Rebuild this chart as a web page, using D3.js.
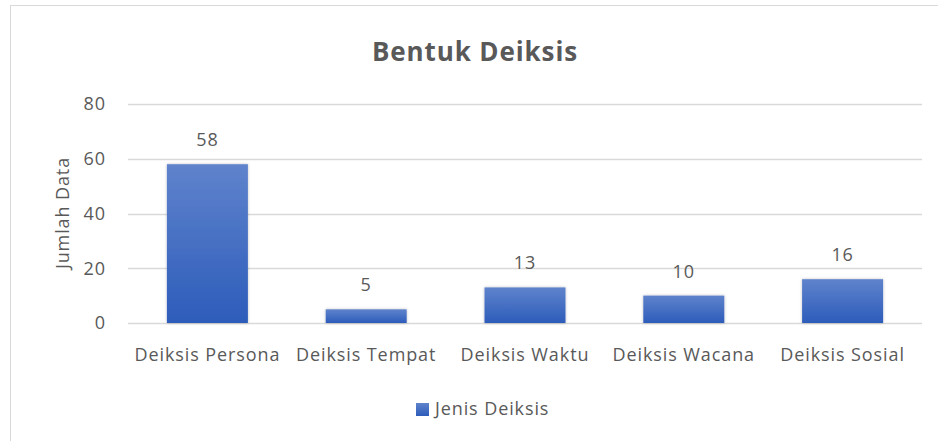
<!DOCTYPE html>
<html>
<head>
<meta charset="utf-8">
<script src="https://cdn.jsdelivr.net/npm/d3@7"></script>
<style>
  body { margin: 0; background: #fff; }
  text { font-family: "Open Sans", "Liberation Sans", sans-serif; fill: #595959; letter-spacing: 0.9px; }
</style>
</head>
<body>
<svg id="chart" width="938" height="441"></svg>
<script>
var categories = ["Deiksis Persona", "Deiksis Tempat", "Deiksis Waktu", "Deiksis Wacana", "Deiksis Sosial"];
var values = [58, 5, 13, 10, 16];
var yTicks = [0, 20, 40, 60, 80];
var seriesName = "Jenis Deiksis";

var svg = d3.select("#chart");

// outer chart border
svg.append("rect")
    .attr("x", 10.5).attr("y", 5.5)
    .attr("width", 940).attr("height", 450)
    .attr("fill", "#fff")
    .attr("stroke", "#d9d9d9");

var defs = svg.append("defs");
var grad = defs.append("linearGradient")
    .attr("id", "barGrad")
    .attr("x1", 0).attr("y1", 0).attr("x2", 0).attr("y2", 1);
grad.append("stop").attr("offset", "0%").attr("stop-color", "#5f83cc");
grad.append("stop").attr("offset", "100%").attr("stop-color", "#2d5cba");

var shadow = defs.append("filter").attr("id", "shadow")
    .attr("x", "-20%").attr("y", "-20%").attr("width", "140%").attr("height", "140%");
shadow.append("feDropShadow")
    .attr("dx", 0).attr("dy", 0).attr("stdDeviation", 1.5)
    .attr("flood-color", "#000").attr("flood-opacity", 0.25);

var plotL = 128, plotR = 922, plotT = 104, plotB = 323;

var x = d3.scaleBand()
    .domain(categories)
    .range([plotL, plotR])
    .paddingInner(0.49)
    .paddingOuter(0.245);

var y = d3.scaleLinear()
    .domain([0, 80])
    .range([plotB, plotT]);

// gridlines
svg.append("g")
    .selectAll("line")
    .data(yTicks)
    .join("line")
    .attr("x1", plotL).attr("x2", plotR)
    .attr("y1", function(d) { return Math.round(y(d)) + 0.5; })
    .attr("y2", function(d) { return Math.round(y(d)) + 0.5; })
    .attr("stroke", "#d9d9d9")
    .attr("stroke-width", 1.5);

// y axis labels
svg.append("g")
    .selectAll("text")
    .data(yTicks)
    .join("text")
    .attr("x", 106)
    .attr("y", function(d) { return y(d); })
    .attr("dy", "0.35em")
    .attr("text-anchor", "end")
    .style("font-size", "18px")
    .text(function(d) { return d; });

// bars
svg.append("g")
    .selectAll("rect")
    .data(values)
    .join("rect")
    .attr("x", function(d, i) { return x(categories[i]); })
    .attr("y", function(d) { return y(d); })
    .attr("width", x.bandwidth())
    .attr("height", function(d) { return y(0) - y(d); })
    .attr("fill", "url(#barGrad)")
    .attr("filter", "url(#shadow)");

// value labels
svg.append("g")
    .selectAll("text")
    .data(values)
    .join("text")
    .attr("x", function(d, i) { return x(categories[i]) + x.bandwidth() / 2; })
    .attr("y", function(d) { return y(d) - 18; })
    .attr("text-anchor", "middle")
    .style("font-size", "18px")
    .text(function(d) { return d; });

// category labels
svg.append("g")
    .selectAll("text")
    .data(categories)
    .join("text")
    .attr("x", function(d) { return x(d) + x.bandwidth() / 2; })
    .attr("y", 361)
    .attr("text-anchor", "middle")
    .style("font-size", "18px")
    .text(function(d) { return d; });

// title
svg.append("text")
    .attr("x", 475).attr("y", 61)
    .attr("text-anchor", "middle")
    .style("font-size", "26px")
    .style("font-weight", "bold")
    .text("Bentuk Deiksis");

// y axis title
svg.append("text")
    .attr("transform", "translate(69,213) rotate(-90)")
    .attr("text-anchor", "middle")
    .style("font-size", "18px")
    .text("Jumlah Data");

// legend
svg.append("rect")
    .attr("x", 416).attr("y", 403)
    .attr("width", 13).attr("height", 13)
    .attr("fill", "url(#barGrad)");
svg.append("text")
    .attr("x", 435).attr("y", 415)
    .style("font-size", "18px")
    .text(seriesName);
</script>
</body>
</html>
